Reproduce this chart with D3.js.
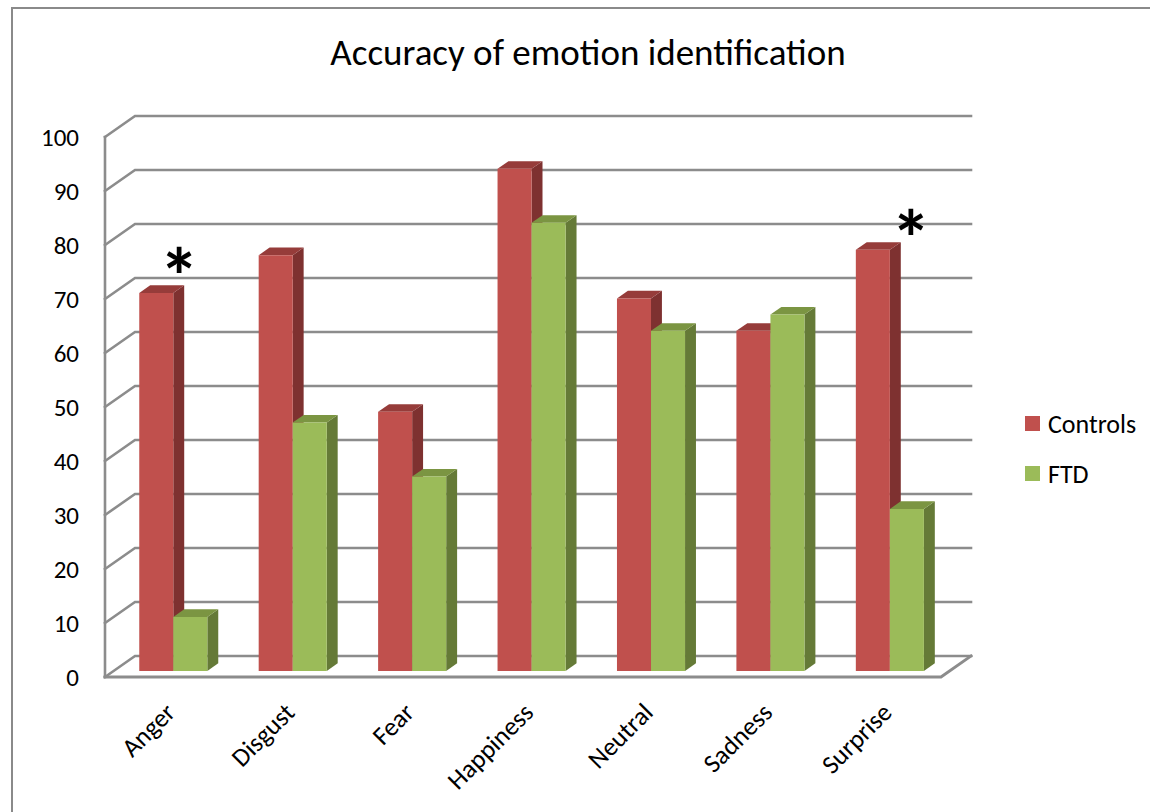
<!DOCTYPE html>
<html>
<head>
<meta charset="utf-8">
<script src="https://cdn.jsdelivr.net/npm/d3@7"></script>
<style>
  html, body { margin: 0; padding: 0; background: #fff; }
  svg { display: block; }
  text { font-family: Carlito, Calibri, Lato, "Open Sans", sans-serif; fill: #000; }
</style>
</head>
<body>
<svg id="chart" width="1150" height="812"></svg>
<script>
// Accuracy (%) of emotion identification by group
const categories = ["Anger", "Disgust", "Fear", "Happiness", "Neutral", "Sadness", "Surprise"];
const seriesNames = ["Controls", "FTD"];
const controls = [70, 77, 48, 93, 69, 63, 78];
const ftd = [10, 46, 36, 83, 63, 66, 30];
const yTicks = [0, 10, 20, 30, 40, 50, 60, 70, 80, 90, 100];
// significance markers: category and the level they sit at
const markers = [
  { category: "Anger", level: 75.7 },
  { category: "Surprise", level: 82.8 }
];
// horizontal nudge of each marker from its category centre (px)
const markerShift = { Anger: 6, Surprise: 21 };

const colors = {
  Controls: { front: "#C0504D", side: "#7E3130", top: "#963C3A" },
  FTD: { front: "#9BBB59", side: "#657A37", top: "#7B9542" }
};

const svg = d3.select("#chart");

// chart frame
svg.append("rect")
  .attr("x", 12).attr("y", 8)
  .attr("width", 1200).attr("height", 900)
  .attr("fill", "none").attr("stroke", "#8a8a8a").attr("stroke-width", 2);

// 3D plot geometry: front floor origin, plot width/height, depth vector
const x0 = 105, y0 = 677, W = 836, H = 540;
const depthVec = [30, -21];
const barDepth0 = 0.286, barDepth1 = 0.65;

const x = d3.scaleBand().domain(categories).range([0, W]).paddingInner(0.43).paddingOuter(0.215);
const xs = d3.scaleBand().domain(seriesNames).range([0, x.bandwidth()]);
const y = d3.scaleLinear().domain([0, 100]).range([0, H]);

// projects (horizontal offset, value, depth fraction) to screen coordinates
function P(px, v, d) {
  return [x0 + px + d * depthVec[0], y0 - y(v) + d * depthVec[1]];
}

const gridColor = "#8c8c8c";
const grid = svg.append("g").attr("fill", "none").attr("stroke", gridColor)
  .attr("stroke-width", 2.6).attr("stroke-linecap", "square");

// back wall gridlines and left wall diagonals
yTicks.forEach(v => {
  grid.append("polyline")
    .attr("points", [P(0, v, 0), P(0, v, 1), P(W, v, 1)].map(p => p.join(",")).join(" "));
});
// left wall front edge
grid.append("line")
  .attr("x1", P(0, 0, 0)[0]).attr("y1", P(0, 0, 0)[1])
  .attr("x2", P(0, 100, 0)[0]).attr("y2", P(0, 100, 0)[1]);
// floor front and right edges
grid.append("polyline")
  .attr("stroke-width", 3)
  .attr("points", [P(0, 0, 0), P(W, 0, 0), P(W, 0, 1)].map(p => p.join(",")).join(" "));

// bars, drawn left to right so each covers its left neighbour's side face
const rows = [];
categories.forEach((c, i) => {
  rows.push({ category: c, series: "Controls", value: controls[i] });
  rows.push({ category: c, series: "FTD", value: ftd[i] });
});

const pts = arr => arr.map(p => p.join(",")).join(" ");
const bars = svg.append("g");
rows.forEach(r => {
  const left = x(r.category) + xs(r.series);
  const right = left + xs.bandwidth();
  const col = colors[r.series];
  const g = bars.append("g");
  // right side face
  g.append("polygon").attr("fill", col.side)
    .attr("points", pts([P(right, 0, barDepth0), P(right, 0, barDepth1), P(right, r.value, barDepth1), P(right, r.value, barDepth0)]));
  // top face
  g.append("polygon").attr("fill", col.top)
    .attr("points", pts([P(left, r.value, barDepth0), P(left, r.value, barDepth1), P(right, r.value, barDepth1), P(right, r.value, barDepth0)]));
  // front face
  g.append("polygon").attr("fill", col.front)
    .attr("points", pts([P(left, 0, barDepth0), P(right, 0, barDepth0), P(right, r.value, barDepth0), P(left, r.value, barDepth0)]));
});

// value axis labels on the front edge
const yAxisScale = d3.scaleLinear().domain([0, 100]).range([y0, y0 - H]);
const yAxis = svg.append("g")
  .attr("transform", `translate(${x0},0)`)
  .call(d3.axisLeft(yAxisScale).tickValues(yTicks).tickSize(0).tickPadding(26));
yAxis.select(".domain").remove();
yAxis.selectAll("text").style("font-size", "25px").style("font-family", null);

// category axis labels, rotated
const xAxis = svg.append("g")
  .attr("transform", `translate(${x0},${y0})`)
  .call(d3.axisBottom(x).tickSize(0));
xAxis.select(".domain").remove();
xAxis.selectAll("text")
  .style("font-size", "26px").style("font-family", null)
  .attr("x", 0).attr("y", 0).attr("dy", 0)
  .attr("text-anchor", "end")
  .attr("transform", "translate(12,37) rotate(-45)");

// significance asterisks
svg.append("g").selectAll("text")
  .data(markers)
  .join("text")
  .attr("x", d => P(x(d.category) + x.bandwidth() / 2 + markerShift[d.category], d.level, barDepth0)[0])
  .attr("y", d => P(0, d.level, barDepth0)[1])
  .attr("dy", "0.54em")
  .attr("text-anchor", "middle")
  .style("font-size", "80px").style("font-weight", "bold")
  .text("*");

// title
svg.append("text")
  .attr("x", 588).attr("y", 65)
  .attr("text-anchor", "middle")
  .style("font-size", "37px")
  .text("Accuracy of emotion identification");

// legend
const legend = svg.append("g").attr("transform", "translate(1025,416)");
seriesNames.forEach((s, i) => {
  const g = legend.append("g").attr("transform", `translate(0,${i * 50})`);
  g.append("rect").attr("width", 15).attr("height", 15).attr("fill", colors[s].front);
  g.append("text").attr("x", 23).attr("y", 17).style("font-size", "26px").text(s);
});
</script>
</body>
</html>
